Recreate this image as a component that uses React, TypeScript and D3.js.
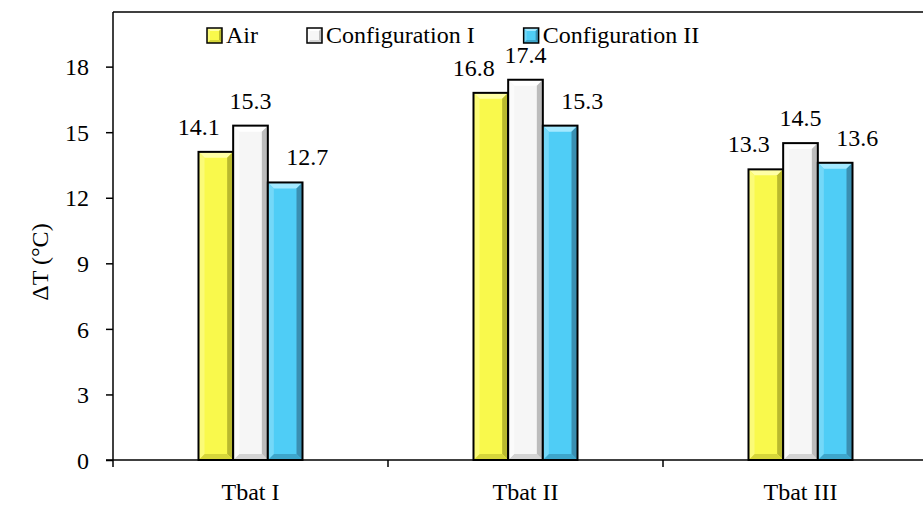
import React, { useEffect, useRef } from "react";
import * as d3 from "d3";

const categories = ["Tbat I", "Tbat II", "Tbat III"];
const seriesNames = ["Air", "Configuration I", "Configuration II"];
const airValues = [14.1, 16.8, 13.3];
const config1Values = [15.3, 17.4, 14.5];
const config2Values = [12.7, 15.3, 13.6];
const yTicks = [0, 3, 6, 9, 12, 15, 18];

// face, top bevel, right bevel, bottom bevel, left bevel
const palette = [
  { face: "#f9f94c", top: "#ffffa6", right: "#b9b92e", bottom: "#d6d63a", left: "#fbfb78" },
  { face: "#f6f6f6", top: "#ffffff", right: "#bcbcbc", bottom: "#d4d4d4", left: "#fbfbfb" },
  { face: "#4fcdf6", top: "#a4e9ff", right: "#3a8fb1", bottom: "#3ea6cb", left: "#74d8f8" },
];
const labelDx = [-17, 0, 22];

const W = 923;
const H = 506;
const FONT = "'Liberation Serif', 'Times New Roman', Times, 'DejaVu Serif', serif";

function drawBevel(g: any, x: number, y: number, w: number, h: number, c: any, b: number, sw: number) {
  g.append("rect").attr("x", x).attr("y", y).attr("width", w).attr("height", h).attr("fill", c.face);
  const bb = Math.min(b, h / 2);
  const poly = (pts: number[][], fill: string) =>
    g.append("polygon").attr("points", pts.map((p) => p.join(",")).join(" ")).attr("fill", fill);
  poly([[x, y], [x + w, y], [x + w - bb, y + bb], [x + bb, y + bb]], c.top);
  poly([[x + w, y], [x + w, y + h], [x + w - bb, y + h - bb], [x + w - bb, y + bb]], c.right);
  poly([[x, y + h], [x + w, y + h], [x + w - bb, y + h - bb], [x + bb, y + h - bb]], c.bottom);
  poly([[x, y], [x + bb, y + bb], [x + bb, y + h - bb], [x, y + h]], c.left);
  g.append("rect")
    .attr("x", x)
    .attr("y", y)
    .attr("width", w)
    .attr("height", h)
    .attr("fill", "none")
    .attr("stroke", "#000")
    .attr("stroke-width", sw);
}

const App: React.FC = () => {
  const svgRef = useRef(null);

  useEffect(() => {
    const svg = d3.select(svgRef.current);
    svg.selectAll("*").remove();

    const left = 113;
    const right = 938;
    const top = 12;
    const bottom = 460;

    const y = d3.scaleLinear().domain([0, 20.5]).range([bottom, top]);
    const x0 = d3.scaleBand().domain(categories).range([left, right]).padding(0);
    const groupW = 104;
    const x1 = d3.scaleBand().domain(seriesNames).range([0, groupW]).padding(0);

    const valuesBySeries = [airValues, config1Values, config2Values];

    // plot frame top line
    svg
      .append("line")
      .attr("x1", left)
      .attr("x2", right)
      .attr("y1", top)
      .attr("y2", top)
      .attr("stroke", "#000")
      .attr("stroke-width", 1.5);

    // bars
    const barsG = svg.append("g");
    categories.forEach((cat, ci) => {
      const cx = (x0(cat) as number) + x0.bandwidth() / 2;
      seriesNames.forEach((s, si) => {
        const v = valuesBySeries[si][ci];
        const bx = cx - groupW / 2 + (x1(s) as number);
        drawBevel(barsG, bx, y(v), x1.bandwidth(), bottom - y(v), palette[si], 6, 2);
        barsG
          .append("text")
          .attr("x", bx + x1.bandwidth() / 2 + labelDx[si])
          .attr("y", y(v) - 17)
          .attr("text-anchor", "middle")
          .text(v.toFixed(1));
      });
    });

    // y axis
    const yAxis = d3.axisLeft(y).tickValues(yTicks).tickSize(7).tickSizeOuter(0).tickPadding(17);
    const yg = svg
      .append("g")
      .attr("transform", `translate(${left},0)`)
      .call(yAxis)
      .attr("font-family", null)
      .attr("font-size", null);
    yg.select(".domain").attr("stroke-width", 1.5).attr("d", `M0,${top}V${bottom}`);
    yg.selectAll(".tick line").attr("stroke-width", 1.5);
    yg.selectAll("text").attr("fill", "#000").attr("dy", "0.34em");

    // x axis
    const xg = svg.append("g");
    xg.append("line")
      .attr("x1", left - 7)
      .attr("x2", right)
      .attr("y1", bottom)
      .attr("y2", bottom)
      .attr("stroke", "#000")
      .attr("stroke-width", 1.5);
    [...categories.map((c) => x0(c) as number), right].forEach((tx) => {
      xg.append("line")
        .attr("x1", tx)
        .attr("x2", tx)
        .attr("y1", bottom)
        .attr("y2", bottom + 7)
        .attr("stroke", "#000")
        .attr("stroke-width", 1.5);
    });
    xg.selectAll(".cat")
      .data(categories)
      .enter()
      .append("text")
      .attr("x", (d) => (x0(d) as number) + x0.bandwidth() / 2)
      .attr("y", bottom + 40)
      .attr("text-anchor", "middle")
      .text((d) => d);

    // y title
    svg
      .append("text")
      .attr("transform", `translate(48,${(top + bottom) / 2 + 26}) rotate(-90)`)
      .attr("text-anchor", "middle")
      .text("ΔT (°C)");

    // legend
    const lg = svg.append("g");
    let lx = 207;
    seriesNames.forEach((s, si) => {
      drawBevel(lg, lx, 28, 15, 15, palette[si], 3, 1.5);
      const t = lg
        .append("text")
        .attr("x", lx + 19)
        .attr("y", 43)
        .text(s);
      const tw = (t.node() as SVGTextElement).getComputedTextLength();
      lx = lx + 19 + tw + 49;
    });

    return () => {
      svg.selectAll("*").remove();
    };
  }, []);

  return (
    <div style={{ position: "absolute", left: 0, top: 0 }}>
      <svg
        ref={svgRef}
        width={W}
        height={H}
        style={{ display: "block", background: "#fff", fontFamily: FONT, fontSize: "24px" }}
      />
    </div>
  );
};

export default App;
